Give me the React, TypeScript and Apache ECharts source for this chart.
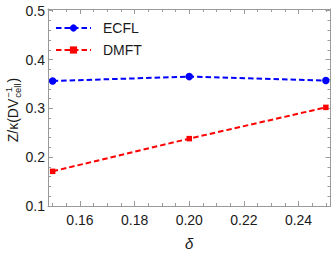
import React, { useEffect, useRef } from 'react';
import * as echarts from 'echarts';

const deltaValues = [0.15, 0.2, 0.25];
const ecflValues = [0.356, 0.365, 0.357];
const dmftValues = [0.171, 0.238, 0.302];
const xMajorTicks = [0.16, 0.18, 0.2, 0.22, 0.24];
const xMinorTicks = [0.15, 0.155, 0.165, 0.17, 0.175, 0.185, 0.19, 0.195, 0.205, 0.21, 0.215, 0.225, 0.23, 0.235, 0.245, 0.25];
const yMajorTicks = [0.1, 0.2, 0.3, 0.4, 0.5];
const yMinorTicks = [0.12, 0.14, 0.16, 0.18, 0.22, 0.24, 0.26, 0.28, 0.32, 0.34, 0.36, 0.38, 0.42, 0.44, 0.46, 0.48];
const seriesNames = ['ECFL', 'DMFT'];

const FONT = '"Liberation Sans", Arial, sans-serif';
const FRAME = '#9a9a9a';
const TEXT = '#1a1a1a';
const XMIN = 0.1483;
const XMAX = 0.2517;
const YMIN = 0.1;
const YMAX = 0.5035;

function measure(text: string, size: number): number {
  const c = document.createElement('canvas').getContext('2d');
  if (!c) return text.length * size * 0.55;
  c.font = `${size}px ${FONT}`;
  return c.measureText(text).width;
}

function xAxisCfg(gridIndex: number, position: string, ticks: number[], len: number, major: boolean, labels: boolean) {
  return {
    type: 'value',
    gridIndex,
    position,
    min: XMIN,
    max: XMAX,
    splitLine: { show: false },
    axisLine: { show: major, onZero: false, lineStyle: { color: FRAME, width: 1 } },
    axisTick: { show: true, inside: true, length: len, customValues: ticks, lineStyle: { color: FRAME, width: 1 } },
    axisLabel: labels
      ? { show: true, customValues: ticks, formatter: (v: number) => v.toFixed(2), margin: 7, fontSize: 14, color: TEXT, fontFamily: FONT }
      : { show: false },
    ...(labels
      ? { name: 'δ', nameLocation: 'middle', nameGap: 30, nameTextStyle: { fontStyle: 'italic', fontSize: 15, fontFamily: FONT, color: TEXT } }
      : {}),
  };
}

function yAxisCfg(gridIndex: number, position: string, ticks: number[], len: number, major: boolean, labels: boolean) {
  return {
    type: 'value',
    gridIndex,
    position,
    min: YMIN,
    max: YMAX,
    splitLine: { show: false },
    axisLine: { show: major, onZero: false, lineStyle: { color: FRAME, width: 1 } },
    axisTick: { show: true, inside: true, length: len, customValues: ticks, lineStyle: { color: FRAME, width: 1 } },
    axisLabel: labels
      ? { show: true, customValues: ticks, formatter: (v: number) => v.toFixed(1), margin: 3, fontSize: 14, color: TEXT, fontFamily: FONT }
      : { show: false },
  };
}

export default function App() {
  const ref = useRef<HTMLDivElement>(null);
  useEffect(() => {
    document.body.style.margin = '0';
    if (!ref.current) return;
    const chart = echarts.init(ref.current, undefined, { renderer: 'svg' });

    const mainSize = 14;
    const smallSize = 9.5;
    const w1 = measure('Z/κ(DV', mainSize);
    const wSub = measure('cell', smallSize);
    const wSup = measure('−1', smallSize);
    const w3 = measure(')', mainSize);
    const total = w1 + 1 + Math.max(wSub, wSup) + 1 + w3;
    const x0 = -total / 2;

    const grid = { left: 48, right: 1.5, top: 9, bottom: 50 };

    chart.setOption({
      animation: false,
      grid: [grid, { ...grid }],
      legend: {
        data: seriesNames,
        orient: 'vertical',
        left: 55,
        top: 21,
        padding: 0,
        itemWidth: 35,
        itemHeight: 9,
        itemGap: 8,
        textStyle: { fontSize: 14, fontFamily: FONT, color: TEXT, padding: [0, 0, 0, 7] },
      },
      xAxis: [
        xAxisCfg(0, 'bottom', xMajorTicks, 5, true, true),
        xAxisCfg(0, 'top', xMajorTicks, 5, true, false),
        xAxisCfg(1, 'bottom', xMinorTicks, 3, false, false),
        xAxisCfg(1, 'top', xMinorTicks, 3, false, false),
      ],
      yAxis: [
        yAxisCfg(0, 'left', yMajorTicks, 5, true, true),
        yAxisCfg(0, 'right', yMajorTicks, 5, true, false),
        yAxisCfg(1, 'left', yMinorTicks, 3, false, false),
        yAxisCfg(1, 'right', yMinorTicks, 3, false, false),
      ],
      series: [
        {
          name: seriesNames[0],
          type: 'line',
          xAxisIndex: 0,
          yAxisIndex: 0,
          data: deltaValues.map((d, i) => [d, ecflValues[i]]),
          symbol: 'circle',
          symbolSize: 7.5,
          color: '#0000ff',
          itemStyle: { color: '#0000ff' },
          lineStyle: { color: '#0000ff', width: 2, type: [5.5, 3] },
        },
        {
          name: seriesNames[1],
          type: 'line',
          xAxisIndex: 0,
          yAxisIndex: 0,
          data: deltaValues.map((d, i) => [d, dmftValues[i]]),
          symbol: 'rect',
          symbolSize: 5.5,
          color: '#ff0000',
          itemStyle: { color: '#ff0000' },
          lineStyle: { color: '#ff0000', width: 2, type: [5.5, 3] },
        },
      ],
      graphic: [
        {
          type: 'group',
          x: 13,
          y: 110,
          rotation: Math.PI / 2,
          children: [
            {
              type: 'text',
              x: x0,
              y: 0,
              style: { text: 'Z/κ(DV', font: `${mainSize}px ${FONT}`, fill: TEXT, verticalAlign: 'middle', align: 'left' },
            },
            {
              type: 'text',
              x: x0 + w1 + 1,
              y: 4.5,
              style: { text: 'cell', font: `${smallSize}px ${FONT}`, fill: TEXT, verticalAlign: 'middle', align: 'left' },
            },
            {
              type: 'text',
              x: x0 + w1 + 1,
              y: -5,
              style: { text: '−1', font: `${smallSize}px ${FONT}`, fill: TEXT, verticalAlign: 'middle', align: 'left' },
            },
            {
              type: 'text',
              x: x0 + w1 + 2 + Math.max(wSub, wSup),
              y: 0,
              style: { text: ')', font: `${mainSize}px ${FONT}`, fill: TEXT, verticalAlign: 'middle', align: 'left' },
            },
          ],
        },
      ],
    });
    return () => chart.dispose();
  }, []);
  return <div ref={ref} style={{ width: 332, height: 256 }} />;
}
